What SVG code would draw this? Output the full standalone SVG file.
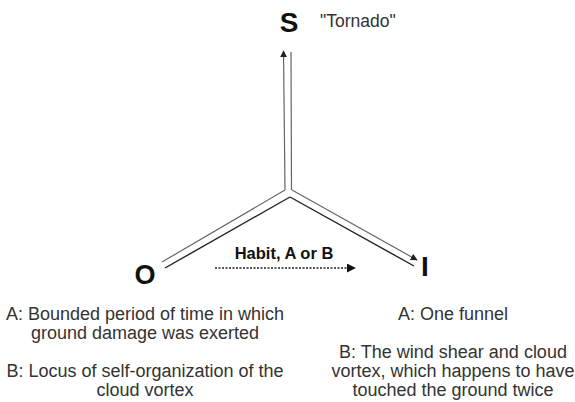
<svg xmlns="http://www.w3.org/2000/svg" width="575" height="402" viewBox="0 0 575 402">
  <style>
    .node { font-family: "Liberation Sans", Arial, sans-serif; font-weight: bold; fill: #111; }
    .body { font-family: "Liberation Sans", Arial, sans-serif; font-size: 18px; fill: #333; text-anchor: middle; }
    .light { stroke: #666; stroke-width: 1.2; fill: none; }
    .dark { stroke: #222; stroke-width: 1.4; fill: none; }
    .dotted { stroke: #222; stroke-width: 1.6; stroke-dasharray: 2 1.5; fill: none; }
  </style>
  <defs>
    <marker id="ah" viewBox="0 0 10 10" refX="9" refY="5" markerWidth="7" markerHeight="7" markerUnits="userSpaceOnUse" orient="auto">
      <path d="M0,0 L10,5 L0,10 z" fill="#222"/>
    </marker>
    <marker id="ah2" viewBox="0 0 10 10" refX="9" refY="5" markerWidth="9" markerHeight="9" markerUnits="userSpaceOnUse" orient="auto">
      <path d="M0,0 L10,5 L0,10 z" fill="#111"/>
    </marker>
  </defs>
  <rect width="575" height="402" fill="#fff"/>

  <g id="connectors">
    <line class="light" x1="285" y1="190" x2="283.5" y2="51" marker-end="url(#ah)"/>
    <line class="light" x1="291.5" y1="190" x2="291" y2="52"/>
    <line class="light" x1="285" y1="190" x2="162" y2="262"/>
    <line class="dark" x1="290" y1="197" x2="165" y2="268"/>
    <line class="light" x1="292" y1="190" x2="417" y2="260" marker-end="url(#ah)"/>
    <line class="dark" x1="290" y1="197" x2="414" y2="266"/>
    <line id="habit-arrow" class="dotted" x1="215" y1="268" x2="355" y2="268" marker-end="url(#ah2)"/>
  </g>

  <g id="node-S">
    <text class="node" x="289" y="32" font-size="28" text-anchor="middle">S</text>
    <text x="320" y="27" font-family="Liberation Sans, Arial, sans-serif" font-size="17.5" fill="#333">"Tornado"</text>
  </g>

  <g id="node-O">
    <text class="node" x="145" y="284" font-size="27" text-anchor="middle">O</text>
    <text class="body" x="145" y="320">A: Bounded period of time in which</text>
    <text class="body" x="145" y="339">ground damage was exerted</text>
    <text class="body" x="145" y="377">B: Locus of self-organization of the</text>
    <text class="body" x="145" y="396">cloud vortex</text>
  </g>

  <g id="node-I">
    <text class="node" x="425" y="276" font-size="28" text-anchor="middle">I</text>
    <text class="body" x="453" y="320">A: One funnel</text>
    <text class="body" x="453" y="358">B: The wind shear and cloud</text>
    <text class="body" x="453" y="377">vortex, which happens to have</text>
    <text class="body" x="453" y="396">touched the ground twice</text>
  </g>

  <g id="label-habit">
    <text class="node" x="284" y="259" font-size="16.5" text-anchor="middle">Habit, A or B</text>
  </g>
</svg>
